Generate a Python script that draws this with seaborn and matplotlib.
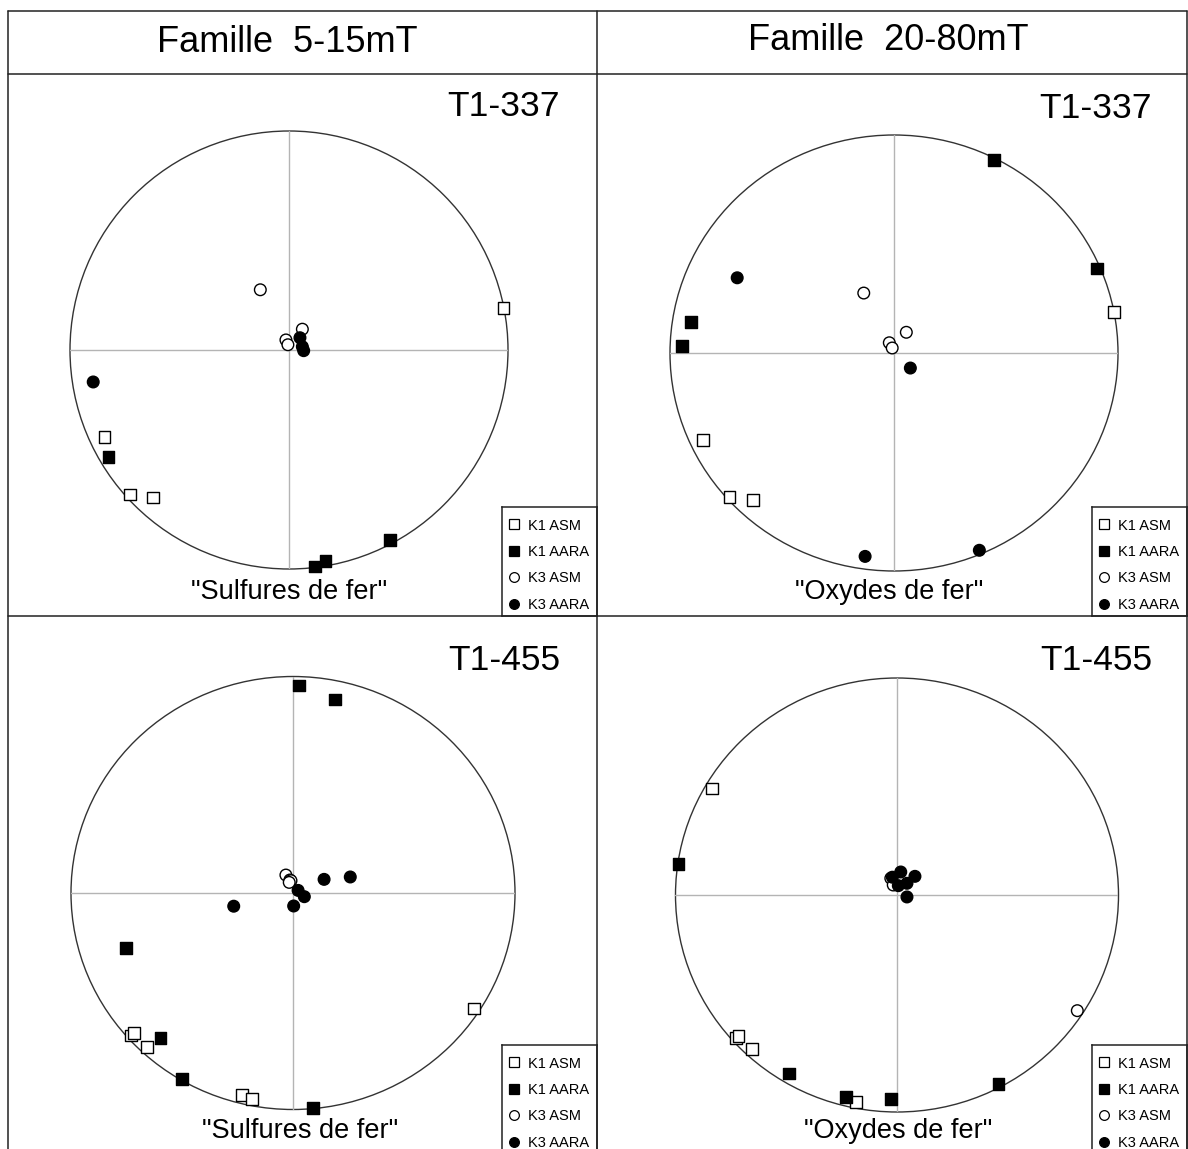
import numpy as np
import pandas as pd
import matplotlib
matplotlib.use("Agg")
import matplotlib.pyplot as plt
from matplotlib.lines import Line2D
from matplotlib.patches import Ellipse
import seaborn as sns

sns.set_theme(style="white")
plt.rcParams['font.family'] = ['Liberation Sans', 'DejaVu Sans']
plt.rcParams['text.color'] = 'black'

# Projections (unit circle, x = East, y = North)
# T1-337, famille 5-15mT
t337_bas_k1_asm = [(0.979, 0.192), (-0.843, -0.396), (-0.726, -0.659), (-0.621, -0.674)]
t337_bas_k1_aara = [(-0.825, -0.489), (0.461, -0.868), (0.166, -0.963), (0.120, -0.989)]
t337_bas_k3_asm = [(-0.131, 0.275), (0.061, 0.095), (-0.014, 0.046), (-0.005, 0.024)]
t337_bas_k3_aara = [(0.050, 0.056), (0.061, 0.015), (0.067, -0.003), (-0.894, -0.146)]

# T1-337, famille 20-80mT
t337_haut_k1_asm = [(0.981, 0.189), (-0.853, -0.398), (-0.735, -0.661), (-0.629, -0.674)]
t337_haut_k1_aara = [(0.446, 0.885), (0.905, 0.387), (-0.906, 0.141), (-0.946, 0.033)]
t337_haut_k3_asm = [(-0.135, 0.275), (0.055, 0.095), (-0.021, 0.047), (-0.008, 0.023)]
t337_haut_k3_aara = [(-0.700, 0.345), (0.073, -0.069), (-0.129, -0.933), (0.381, -0.905)]

# T1-455, famille 5-15mT
t455_bas_k1_asm = [(0.814, -0.533), (-0.730, -0.659), (-0.716, -0.647), (-0.659, -0.710),
                   (-0.230, -0.932), (-0.186, -0.951)]
t455_bas_k1_aara = [(0.026, 0.959), (0.189, 0.893), (-0.751, -0.255), (-0.596, -0.671),
                    (-0.500, -0.859), (0.091, -0.993)]
t455_bas_k3_asm = [(-0.032, 0.083), (-0.014, 0.060), (-0.009, 0.057), (-0.017, 0.049)]
t455_bas_k3_aara = [(0.140, 0.063), (0.258, 0.074), (0.023, 0.012), (0.051, -0.017),
                    (-0.267, -0.061), (0.003, -0.060)]

# T1-455, famille 20-80mT
t455_haut_k1_asm = [(-0.834, 0.490), (-0.728, -0.660), (-0.715, -0.650), (-0.656, -0.710),
                    (-0.185, -0.953)]
t455_haut_k1_aara = [(-0.986, 0.144), (-0.488, -0.822), (-0.230, -0.931), (-0.027, -0.939),
                     (0.459, -0.870)]
t455_haut_k3_asm = [(-0.028, 0.077), (-0.017, 0.046), (0.814, -0.533)]
t455_haut_k3_aara = [(0.017, 0.106), (0.081, 0.086), (0.045, 0.054), (0.045, -0.009),
                     (0.006, 0.043), (-0.021, 0.082)]

familles = ["Famille  5-15mT", "Famille  20-80mT"]
echantillons = ["T1-337", "T1-455"]
mineraux = ['"Sulfures de fer"', '"Oxydes de fer"']
legende = ["K1 ASM", "K1 AARA", "K3 ASM", "K3 AARA"]

W, H = 1188, 1149
fig = plt.figure(figsize=(W / 100, H / 100), dpi=100)


def px_axes(x0, y0, x1, y1):
    return fig.add_axes([x0 / W, 1 - y1 / H, (x1 - x0) / W, (y1 - y0) / H])


def to_df(k1_asm, k1_aara, k3_asm, k3_aara):
    rows = []
    for pts, axe, mesure in [(k1_asm, "K1", "ASM"), (k1_aara, "K1", "AARA"),
                             (k3_asm, "K3", "ASM"), (k3_aara, "K3", "AARA")]:
        for x, y in pts:
            rows.append({"x": x, "y": y, "axe": axe, "mesure": mesure})
    return pd.DataFrame(rows)


panneaux = [
    # (data, cx, cy, rx, ry, label x/y, caption x/y, legend box x/y/bottom)
    (to_df(t337_bas_k1_asm, t337_bas_k1_aara, t337_bas_k3_asm, t337_bas_k3_aara),
     289, 350, 219, 219, echantillons[0], 560, 107, mineraux[0], 289, 592, 502, 507, 616),
    (to_df(t337_haut_k1_asm, t337_haut_k1_aara, t337_haut_k3_asm, t337_haut_k3_aara),
     894, 353, 224, 218, echantillons[0], 1152, 108, mineraux[1], 889, 592, 1092, 507, 616),
    (to_df(t455_bas_k1_asm, t455_bas_k1_aara, t455_bas_k3_asm, t455_bas_k3_aara),
     293, 893, 222, 216.5, echantillons[1], 560, 660, mineraux[0], 300, 1131, 502, 1045, 1160),
    (to_df(t455_haut_k1_asm, t455_haut_k1_aara, t455_haut_k3_asm, t455_haut_k3_aara),
     897, 895, 221.5, 217, echantillons[1], 1152, 660, mineraux[1], 898, 1131, 1092, 1045, 1160),
]

for df, cx, cy, rx, ry, lab, lx, ly, cap, capx, capy, bx, by, bb in panneaux:
    ax = px_axes(cx - rx, cy - ry, cx + rx, cy + ry)
    ax.set_xlim(-1, 1)
    ax.set_ylim(-1, 1)
    ax.axis("off")
    ax.add_patch(Ellipse((0, 0), 2, 2, fill=False, edgecolor="#333333", lw=1.0,
                         clip_on=False))
    ax.axhline(0, color="#b4b4b4", lw=1.0, zorder=1)
    ax.axvline(0, color="#b4b4b4", lw=1.0, zorder=1)
    sns.scatterplot(data=df, x="x", y="y", hue="mesure", style="axe",
                    palette={"ASM": "white", "AARA": "black"},
                    markers={"K1": "s", "K3": "o"},
                    edgecolor="black", linewidth=1.0, s=70,
                    legend=False, ax=ax, clip_on=False, zorder=3)
    ax.set_xlabel("")
    ax.set_ylabel("")

    fig.text(lx / W, 1 - ly / H, lab, ha="right", va="center", fontsize=25.5)
    fig.text(capx / W, 1 - capy / H, cap, ha="center", va="center", fontsize=19.5)

    # legend box (top-left anchored, 109 px reference height for the entries)
    lax = px_axes(bx, by, bx + 95, bb)
    lax.set_xticks([])
    lax.set_yticks([])
    for sp in lax.spines.values():
        sp.set_color("#222222")
        sp.set_linewidth(1.1)
    lax.patch.set_alpha(0)
    handles = [
        Line2D([], [], marker="s", ls="", mfc="white", mec="black", ms=7, mew=0.9),
        Line2D([], [], marker="s", ls="", mfc="black", mec="black", ms=7, mew=0.9),
        Line2D([], [], marker="o", ls="", mfc="white", mec="black", ms=7, mew=0.9),
        Line2D([], [], marker="o", ls="", mfc="black", mec="black", ms=7, mew=0.9),
    ]
    top = 1.0 - 5.0 / (bb - by)
    lax.legend(handles, legende, loc="upper left", bbox_to_anchor=(0.0, top),
               frameon=False, fontsize=10.5, handlelength=0.8, handletextpad=0.5,
               labelspacing=0.85, borderaxespad=0.0, borderpad=0.45,
               labelcolor="black")

# header titles
fig.text(287 / W, 1 - 42 / H, familles[0], ha="center", va="center", fontsize=26)
fig.text(888 / W, 1 - 41 / H, familles[1], ha="center", va="center", fontsize=26)

# table frame
cadre = dict(color="#222222", lw=1.1, transform=fig.transFigure)
for (x0, y0, x1, y1) in [(8, 11, 1187, 11), (8, 74, 1187, 74), (8, 616, 1187, 616),
                         (8, 11, 8, 1149), (597, 11, 597, 1149), (1187, 11, 1187, 1149)]:
    fig.add_artist(Line2D([x0 / W, x1 / W], [1 - y0 / H, 1 - y1 / H], **cadre))

fig.savefig("out.png", dpi=100, facecolor="white")
